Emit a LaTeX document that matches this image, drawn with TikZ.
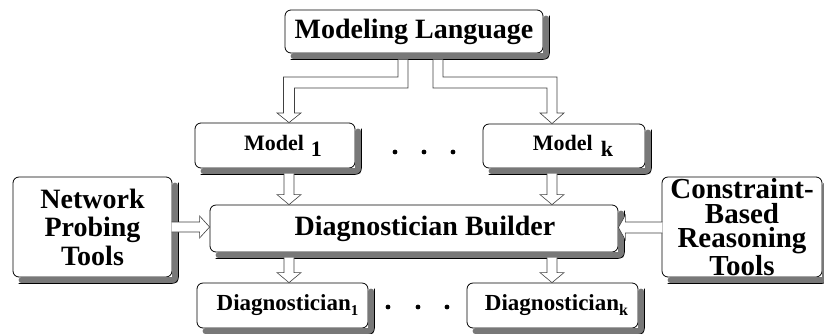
\documentclass[tikz,border=0pt]{standalone}
\usepackage{fontspec}
\setmainfont{Liberation Serif}
\usetikzlibrary{calc}
\definecolor{shadowgrey}{RGB}{120,120,120}
\begin{document}
\begin{tikzpicture}[x=1pt,y=-1pt,
  box/.style={draw=black, line width=0.8pt, fill=white, rounded corners=6pt, inner sep=0pt, align=center},
  shadowstroke/.style={draw=shadowgrey, line width=6pt, line join=round, line cap=round},
  shadowedge/.style={draw=black, line width=0.7pt, rounded corners=6pt},
  arr/.style={draw=black!75, line width=0.6pt, fill=white, line join=miter},
  bigfont/.style={font=\bfseries\fontsize{28}{28.5}\selectfont},
  cbfont/.style={font=\bfseries\fontsize{29}{24.5}\selectfont},
  modfont/.style={font=\bfseries\fontsize{22}{22}\selectfont},
  diafont/.style={font=\bfseries\fontsize{23}{23}\selectfont},
  dot/.style={fill=black},
  pics/darr/.style={code={\draw[arr] (-5,-#1) -- (-5,-10) -- (-12,-10) -- (0,0) -- (12,-10) -- (5,-10) -- (5,-#1);}},
  pics/rarr/.style={code={\draw[arr] (-#1,-5) -- (-10,-5) -- (-10,-11) -- (0,0) -- (-10,11) -- (-10,5) -- (-#1,5);}},
  pics/larr/.style={code={\draw[arr] (#1,-5.5) -- (7,-5.5) -- (7,-12.5) -- (0,0) -- (7,12.5) -- (7,5.5) -- (#1,5.5);}}
]
\useasboundingbox (0,0) rectangle (824,333);

% nodes
\node[box, bigfont, minimum width=258, minimum height=43] (ml) at (414,31.5) {Modeling Language};
\node[box, modfont, minimum width=160, minimum height=45] (m1) at (275,145.5)
  {\hspace*{16pt}Model\hspace{7pt}\raisebox{-6pt}{\fontsize{22}{22}\selectfont 1}};
\node[box, modfont, minimum width=162, minimum height=44] (mk) at (564,146)
  {\hspace*{18pt}Model\hspace{8pt}\raisebox{-6pt}{\fontsize{22}{22}\selectfont k}};
\node[box, bigfont, minimum width=159, minimum height=100] (npt) at (92.5,227) {Network\\Probing\\Tools};
\node[box, bigfont, minimum width=408, minimum height=47] (db) at (414,228.5) {\hspace*{22pt}Diagnostician Builder};
\node[box, cbfont, minimum width=160, minimum height=100] (cb) at (742,227) {Constraint-\\Based\\Reasoning\\Tools};
\node[box, diafont, minimum width=171, minimum height=45] (d1) at (282.5,305.5)
  {\hspace*{10pt}Diagnostician\raisebox{-5pt}{\fontsize{15}{15}\selectfont 1}};
\node[box, diafont, minimum width=171, minimum height=45] (dk) at (552.5,305.5)
  {\hspace*{8pt}Diagnostician\raisebox{-5pt}{\fontsize{16}{16}\selectfont k}};

% shadows: grey band along right and bottom, with outer edge
\foreach \n in {ml,m1,mk,npt,db,cb,d1,dk}{
  \draw[shadowstroke] ([shift={(9,3)}]\n.south west) -- ([shift={(3,3)}]\n.south east) -- ([shift={(3,9)}]\n.north east);
  \draw[shadowedge] ([shift={(6,6)}]\n.south west) -- ([shift={(6,6)}]\n.south east) -- ([shift={(6,6)}]\n.north east);
}

% ellipsis dots
\fill[dot] (395,152) circle (2.4) (424,152) circle (2.4) (453,152) circle (2.4);
\fill[dot] (388,307) circle (2.4) (418,307) circle (2.4) (447,307) circle (2.4);

% elbow arrows from Modeling Language
\draw[arr] (398,59.5) -- (398,77) -- (283.5,77) -- (283.5,113) -- (277,113)
  -- (289,0 |- m1.north) -- (301,113) -- (294.5,113) -- (294.5,88) -- (408,88) -- (408,59.5);
\draw[arr] (443,59.5) -- (443,77) -- (557,77) -- (557,113) -- (564,113)
  -- (552,0 |- mk.north) -- (540,113) -- (547,113) -- (547,88) -- (433,88) -- (433,59.5);

% straight arrows
\pic at (289,0 |- db.north) {darr=31};
\pic at (552,0 |- db.north) {darr=31};
\pic at (289,0 |- d1.north) {darr=25};
\pic at (552,0 |- dk.north) {darr=25};
\pic at ($(db.west)+(0,-1.5)$) {rarr=38};
\pic at ($(db.east)+(0,-1)$) {larr=44};
\end{tikzpicture}
\end{document}
